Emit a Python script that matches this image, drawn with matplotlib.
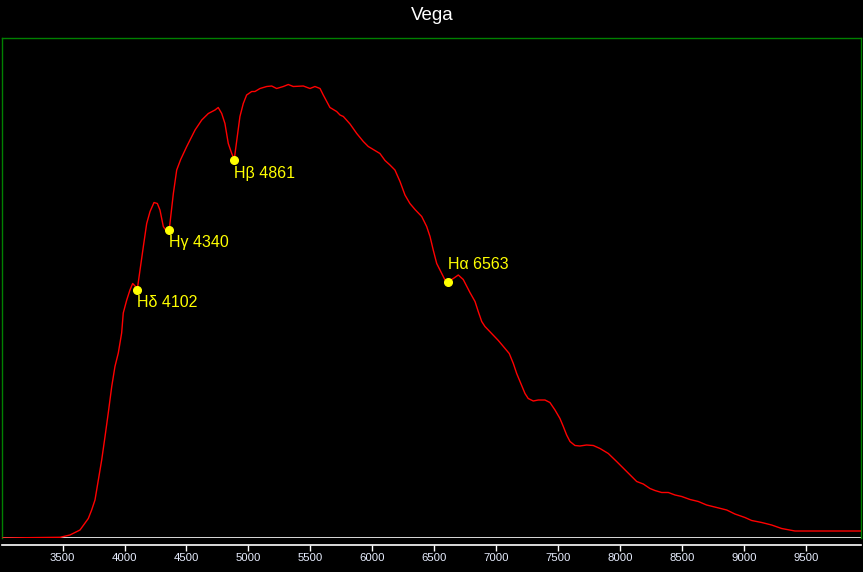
import numpy as np
import matplotlib
matplotlib.use("Agg")
import matplotlib.pyplot as plt

plt.rcParams['font.family'] = ['Liberation Sans', 'DejaVu Sans']

# Spectrum of Vega (wavelength in Angstrom, relative flux)
wavelength = [3012, 3480, 3560, 3641, 3708, 3735, 3762, 3789, 3816, 3843, 3869, 3897,
              3923, 3950, 3977, 3990, 4018, 4044, 4066, 4085, 4103, 4125, 4152, 4179,
              4206, 4238, 4265, 4286, 4313, 4335, 4361, 4394, 4421, 4453, 4502, 4569,
              4623, 4676, 4730, 4756, 4784, 4810, 4837, 4865, 4885, 4910, 4931, 4958,
              4985, 5026, 5052, 5093, 5147, 5187, 5227, 5281, 5321, 5361, 5442, 5496,
              5536, 5577, 5603, 5657, 5711, 5738, 5765, 5819, 5873, 5926, 5966, 6006,
              6060, 6101, 6141, 6181, 6222, 6262, 6302, 6343, 6397, 6437, 6464, 6490,
              6518, 6558, 6585, 6611, 6652, 6692, 6732, 6786, 6827, 6853, 6881, 6907,
              6961, 7015, 7069, 7103, 7136, 7163, 7190, 7230, 7256, 7297, 7337, 7391,
              7431, 7472, 7512, 7539, 7566, 7593, 7633, 7673, 7727, 7781, 7835, 7902,
              7969, 8050, 8131, 8184, 8238, 8278, 8332, 8386, 8440, 8494, 8561, 8628,
              8695, 8776, 8857, 8923, 9004, 9058, 9139, 9219, 9300, 9407, 9940]
flux = [0.000, 0.0014, 0.006, 0.016, 0.039, 0.056, 0.076, 0.116, 0.156, 0.203, 0.250, 0.303,
        0.343, 0.370, 0.410, 0.450, 0.476, 0.496, 0.509, 0.504, 0.497, 0.536, 0.583, 0.629,
        0.653, 0.671, 0.669, 0.656, 0.623, 0.615, 0.617, 0.689, 0.736, 0.757, 0.783, 0.816,
        0.836, 0.849, 0.856, 0.861, 0.849, 0.829, 0.789, 0.769, 0.757, 0.803, 0.843, 0.869,
        0.886, 0.893, 0.893, 0.899, 0.903, 0.904, 0.899, 0.903, 0.907, 0.903, 0.904, 0.899,
        0.903, 0.899, 0.886, 0.861, 0.853, 0.846, 0.843, 0.828, 0.809, 0.793, 0.783, 0.777,
        0.769, 0.755, 0.746, 0.736, 0.713, 0.686, 0.669, 0.657, 0.643, 0.623, 0.603, 0.576,
        0.549, 0.529, 0.516, 0.513, 0.519, 0.526, 0.517, 0.491, 0.473, 0.453, 0.433, 0.423,
        0.409, 0.395, 0.379, 0.369, 0.349, 0.329, 0.313, 0.289, 0.279, 0.274, 0.276, 0.276,
        0.271, 0.256, 0.239, 0.223, 0.206, 0.193, 0.185, 0.184, 0.186, 0.185, 0.179, 0.169,
        0.153, 0.133, 0.113, 0.108, 0.099, 0.095, 0.091, 0.091, 0.086, 0.083, 0.077, 0.073,
        0.066, 0.061, 0.056, 0.048, 0.041, 0.035, 0.031, 0.026, 0.019, 0.014, 0.014]

# Balmer line markers (position on the plotted spectrum) and labels
line_wl = [4103, 4361, 4885, 6611]
line_labels = ["Hδ 4102", "Hγ 4340", "Hβ 4861", "Hα 6563"]
label_dy = [-13, -13, -14, 17]

xticks = [3500, 4000, 4500, 5000, 5500, 6000, 6500, 7000, 7500, 8000, 8500, 9000, 9500]

W, H = 863, 572
fig = plt.figure(figsize=(W / 100, H / 100), dpi=100, facecolor='black')
ax = fig.add_axes([2 / W, (H - 538) / H, (861 - 2) / W, (538 - 38) / H])
ax.set_facecolor('black')

ax.plot(wavelength, flux, color='#ff0000', lw=1.0, zorder=3)
ax.axhline(0, color='white', lw=1.2, zorder=2)

line_flux = np.interp(line_wl, wavelength, flux)
ax.plot(line_wl, line_flux, 'o', color='#ffff00', markersize=5.5, zorder=4)
for wl, fl, lab, dy in zip(line_wl, line_flux, line_labels, label_dy):
    ax.annotate(lab, (wl, fl), xytext=(0, dy), textcoords='offset pixels',
                ha='left', va='center', color='#ffff00', fontsize=11.5, zorder=5)

ax.set_xlim(3012, 9940)
ax.set_ylim(0, 1)
ax.set_xticks(xticks)
ax.set_xticklabels([str(t) for t in xticks])
ax.set_yticks([])

for s in ['left', 'top', 'right']:
    ax.spines[s].set_color('#008000')
    ax.spines[s].set_linewidth(1.0)
ax.spines['bottom'].set_color('white')
ax.spines['bottom'].set_linewidth(1.2)
ax.spines['bottom'].set_position(('outward', 5))

ax.tick_params(axis='x', colors='white', direction='out', length=4, width=1,
               labelsize=8.2, labelcolor='#e8eeff', pad=2)

fig.text(432 / W, 1 - 16 / H, "Vega", color='white', fontsize=13.5,
         ha='center', va='center')

fig.savefig('out.png', dpi=100, facecolor='black')
